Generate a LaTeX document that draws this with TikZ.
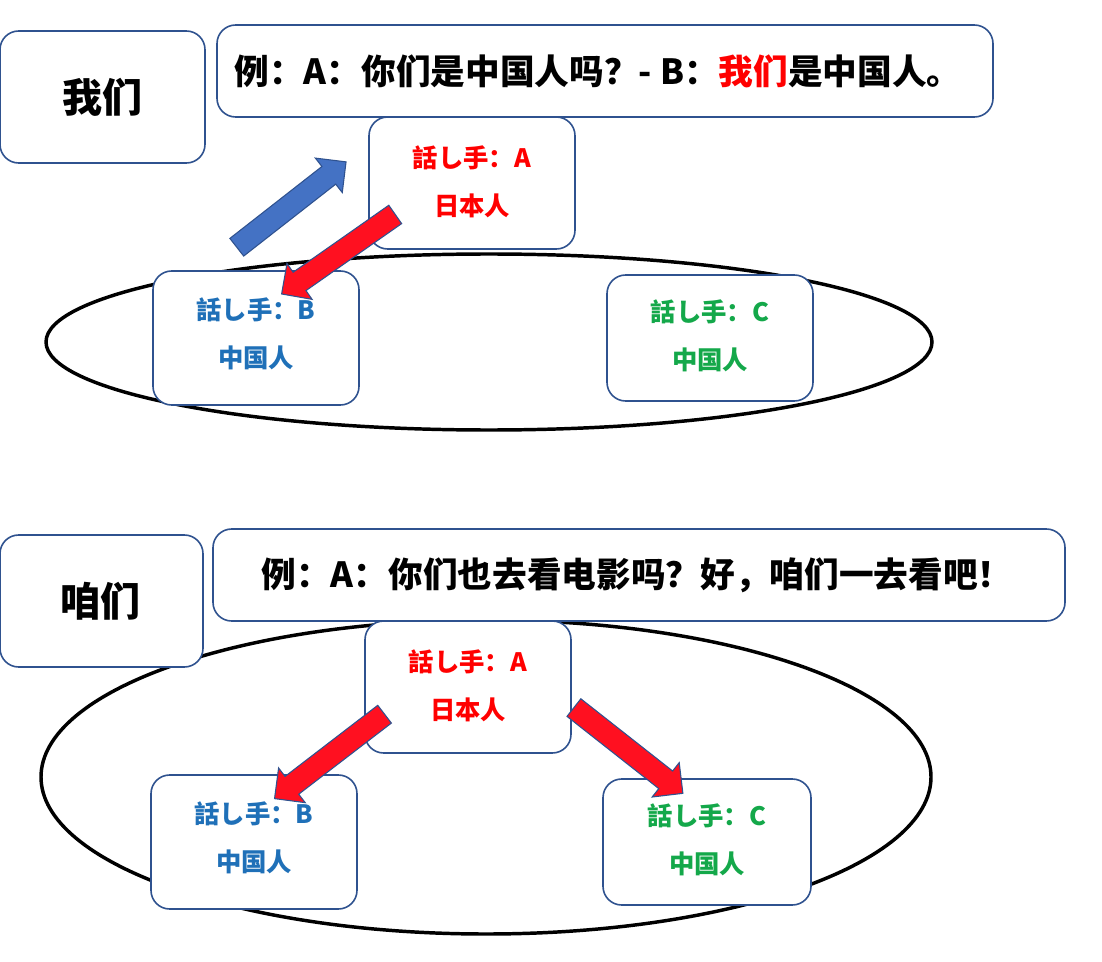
\documentclass[tikz,border=0pt]{standalone}
\usepackage{fontspec}
\setmainfont{Noto Sans CJK SC}
\usetikzlibrary{shapes.arrows}
\definecolor{bx}{HTML}{2F528F}
\definecolor{tblue}{HTML}{1F70B8}
\definecolor{tgreen}{HTML}{14A84A}
\definecolor{ared}{HTML}{FF1020}
\definecolor{ablue}{HTML}{4472C4}
\begin{document}
\begin{tikzpicture}[x=0.75pt,y=-0.75pt,
  box/.style={draw=bx,line width=1.2pt,rounded corners=14pt,fill=white},
  oval/.style={draw=black,line width=2.6pt},
  spk/.style={font=\bfseries\fontsize{19}{36}\selectfont,align=center},
  arr/.style={single arrow,draw=bx,line width=0.8pt,fill=ared,inner sep=8pt,single arrow head extend=8pt,minimum height=104pt},
  lab/.style={font=\bfseries\fontsize{30}{34}\selectfont},
  ex/.style={font=\bfseries\fontsize{26}{30}\selectfont}]
\useasboundingbox (0,0) rectangle (1102,962);
% top
\draw[oval] (489,342) ellipse [x radius=443, y radius=88];
\draw[box] (0,31) rectangle (205,163); \node[lab] (w1) at (102,97) {我们};
\draw[box] (217,25) rectangle (993,117);
\node[ex] (e1) at (598,71) {例：A：你们是中国人吗？- B：\textcolor{red}{我们}是中国人。};
\draw[box] (369,117) rectangle (575,249);
\node[spk,text=red] (a1) at (472,182) {話し手：A\\日本人};
\draw[box] (153,271) rectangle (359,405);
\node[spk,text=tblue] (b1) at (256,334) {話し手：B\\中国人};
\draw[box] (607,275) rectangle (813,401);
\node[spk,text=tgreen] (c1) at (710,336) {話し手：C\\中国人};
\node[arr,fill=ablue,rotate=38] (ar1) at (287,208) {};
\node[arr,rotate=215] (ar2) at (343,251) {};
% bottom
\draw[oval] (486,777) ellipse [x radius=445, y radius=157];
\draw[box] (0,535) rectangle (203,667); \node[lab] (w2) at (100,601) {咱们};
\draw[box] (213,529) rectangle (1065,621);
\node[ex] (e2) at (637,575) {例：A：你们也去看电影吗？好，咱们一去看吧！};
\draw[box] (365,621) rectangle (571,753);
\node[spk,text=red] (a2) at (468,686) {話し手：A\\日本人};
\draw[box] (151,775) rectangle (357,909);
\node[spk,text=tblue] (b2) at (254,838) {話し手：B\\中国人};
\draw[box] (603,779) rectangle (811,905);
\node[spk,text=tgreen] (c2) at (707,840) {話し手：C\\中国人};
\node[arr,rotate=217.5] (ar3) at (334,753) {};
\node[arr,rotate=-38.2] (ar4) at (624,747) {};
\end{tikzpicture}
\end{document}
